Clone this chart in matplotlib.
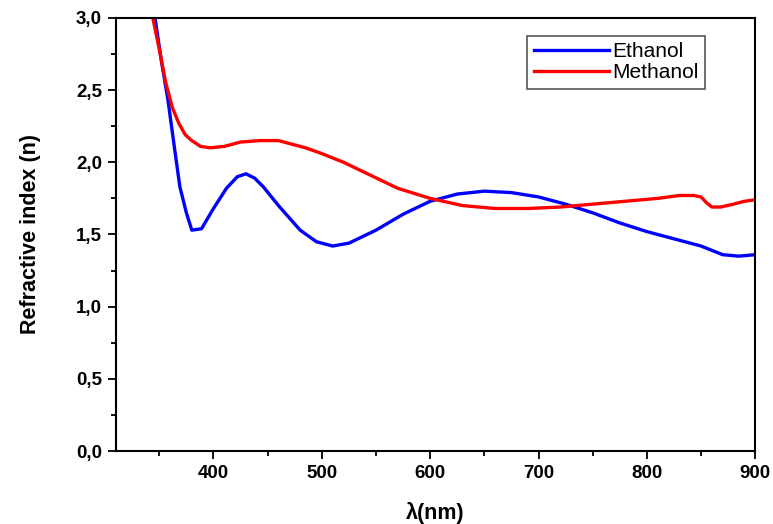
import numpy as np
import matplotlib.pyplot as plt
from matplotlib.ticker import MultipleLocator, FuncFormatter

# Ethanol curve
wl_eth = [346, 352, 358, 364, 369, 375, 380, 389, 400, 412, 422, 430, 438,
          446, 460, 480, 495, 510, 525, 550, 575, 600, 625, 650, 675, 700,
          725, 750, 775, 800, 825, 850, 860, 870, 885, 900]
n_eth = [3.00, 2.70, 2.43, 2.10, 1.83, 1.65, 1.53, 1.54, 1.68, 1.82, 1.90,
         1.92, 1.89, 1.83, 1.70, 1.53, 1.45, 1.42, 1.44, 1.53, 1.64, 1.73,
         1.78, 1.80, 1.79, 1.76, 1.71, 1.65, 1.58, 1.52, 1.47, 1.42, 1.39,
         1.36, 1.35, 1.36]

# Methanol curve
wl_met = [344, 350, 356, 362, 368, 374, 380, 388, 397, 410, 425, 443, 460,
          470, 485, 500, 520, 545, 570, 600, 630, 660, 690, 720, 750, 780,
          810, 830, 843, 850, 855, 860, 868, 880, 890, 900]
n_met = [3.00, 2.78, 2.55, 2.38, 2.27, 2.19, 2.15, 2.11, 2.10, 2.11, 2.14,
         2.15, 2.15, 2.13, 2.10, 2.06, 2.00, 1.91, 1.82, 1.75, 1.70, 1.68,
         1.68, 1.69, 1.71, 1.73, 1.75, 1.77, 1.77, 1.76, 1.72, 1.69, 1.69,
         1.71, 1.73, 1.74]

fig = plt.figure(figsize=(7.73, 5.24), dpi=100)
ax = fig.add_axes([0.150, 0.139, 0.827, 0.827])

ax.plot(wl_eth, n_eth, color="#0000ff", lw=2.4, label="Ethanol")
ax.plot(wl_met, n_met, color="#ff0000", lw=2.4, label="Methanol")

ax.set_xlim(310, 900)
ax.set_ylim(0, 3.0)
ax.xaxis.set_major_locator(MultipleLocator(100))
ax.xaxis.set_minor_locator(MultipleLocator(50))
ax.yaxis.set_major_locator(MultipleLocator(0.5))
ax.yaxis.set_minor_locator(MultipleLocator(0.25))
ax.yaxis.set_major_formatter(FuncFormatter(lambda v, p: f"{v:.1f}".replace(".", ",")))

ax.tick_params(which="major", direction="out", length=6, width=1.3,
               labelsize=13.5, pad=4)
ax.tick_params(which="minor", direction="out", length=3.5, width=1.3)
for lab in ax.get_xticklabels() + ax.get_yticklabels():
    lab.set_fontweight("bold")
    lab.set_family("Liberation Sans")
for s in ax.spines.values():
    s.set_linewidth(1.5)

ax.set_xlabel("λ(nm)", fontsize=15.5, fontweight="bold",
              family="Liberation Sans")
ax.set_ylabel("Refractive index (n)", fontsize=15.5, fontweight="bold",
              family="Liberation Sans")
ax.xaxis.set_label_coords(0.5, -0.118)
ax.yaxis.set_label_coords(-0.117, 0.5)

leg = ax.legend(loc="upper right", bbox_to_anchor=(0.922, 0.958),
                prop={"family": "Liberation Sans", "size": 15},
                fancybox=False, framealpha=1, handlelength=3.6,
                handletextpad=0.2, borderpad=0.3, labelspacing=0.1,
                borderaxespad=0)
leg.get_frame().set_edgecolor("#555555")
leg.get_frame().set_linewidth(1.2)

plt.savefig("out.png", dpi=100)
